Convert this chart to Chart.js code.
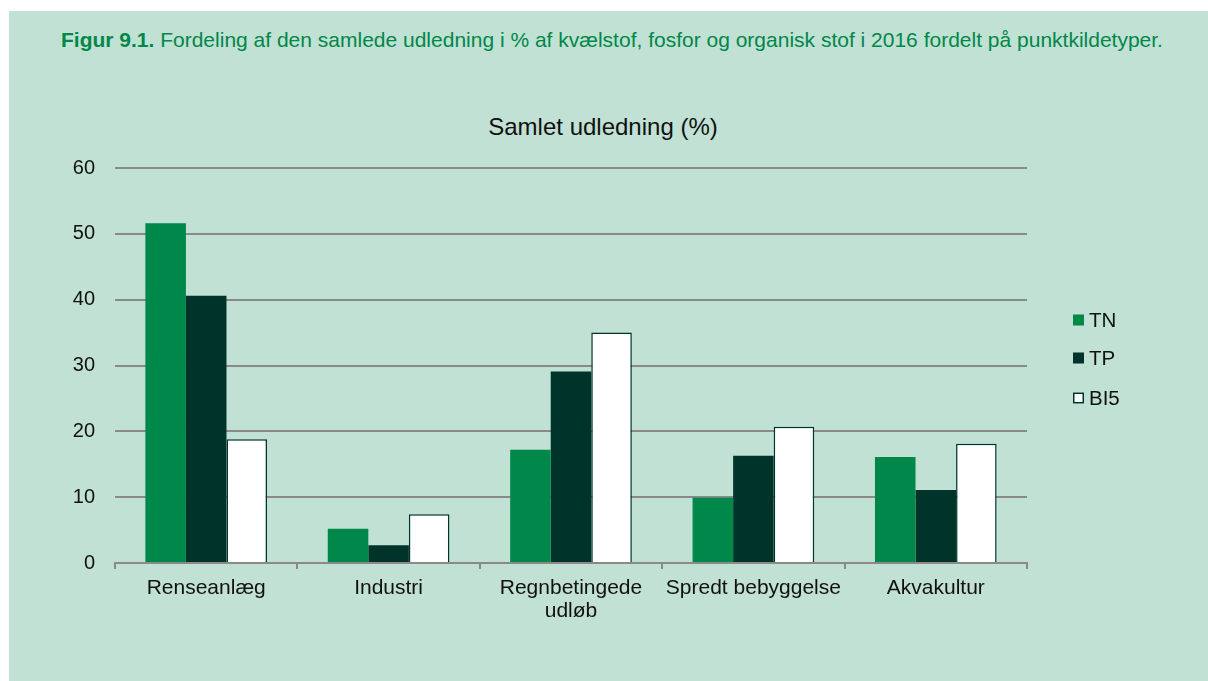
<!DOCTYPE html>
<html>
<head>
<meta charset="utf-8">
<script src="https://cdn.jsdelivr.net/npm/chart.js@4"></script>
<style>
  html, body { margin: 0; padding: 0; background: #ffffff; width: 1208px; height: 681px; overflow: hidden; }
  #panel { position: absolute; left: 9px; top: 11px; width: 1199px; height: 670px; background: #C0E1D3; }
  #figtitle { position: absolute; left: 61px; top: 28px; font-family: "Liberation Sans", Arial, sans-serif; font-size: 21px; line-height: 24px; color: #00874A; white-space: nowrap; }
  #figtitle b { font-weight: bold; }
  #charttitle { position: absolute; left: 0; width: 1206px; top: 113px; text-align: center; font-family: "Liberation Sans", Arial, sans-serif; font-size: 24px; line-height: 28px; color: #111; }
  #wrap { position: absolute; left: 0; top: 0; width: 1208px; height: 681px; }
</style>
</head>
<body>
<div id="panel"></div>
<div id="figtitle"><b>Figur 9.1.</b> Fordeling af den samlede udledning i % af kvælstof, fosfor og organisk stof i 2016 fordelt på punktkildetyper.</div>
<div id="charttitle">Samlet udledning (%)</div>
<div id="wrap"><canvas id="c" width="1208" height="681"></canvas></div>
<script>
const categories = ['Renseanlæg', 'Industri', ['Regnbetingede', 'udløb'], 'Spredt bebyggelse', 'Akvakultur'];
const seriesNames = ['TN', 'TP', 'BI5'];
const tnValues  = [51.6, 5.2, 17.2, 9.9, 16.1];
const tpValues  = [40.6, 2.7, 29.1, 16.3, 11.1];
const bi5Values = [18.8, 7.4, 35.0, 20.7, 18.1];
const yTicks = [0, 10, 20, 30, 40, 50, 60];

const FONT = '"Liberation Sans", Arial, sans-serif';
const GRID = '#8a8a8a';

const legendPlugin = {
  id: 'customLegend',
  afterDraw(chart) {
    const ctx = chart.ctx;
    const ds = chart.data.datasets;
    const x0 = 1073, xt = 1089, ys = [320, 358, 398], box = 11;
    ctx.save();
    ctx.font = '20.5px ' + FONT;
    ctx.textBaseline = 'middle';
    ctx.textAlign = 'left';
    ds.forEach((d, i) => {
      const y = ys[i];
      ctx.fillStyle = d.backgroundColor;
      ctx.fillRect(x0, y - box / 2, box, box);
      if (d.borderWidth) {
        ctx.strokeStyle = d.borderColor;
        ctx.lineWidth = 1.5;
        ctx.strokeRect(x0 + 0.75, y - box / 2 + 0.75, box - 1.5, box - 1.5);
      }
      ctx.fillStyle = '#111';
      ctx.fillText(d.label, xt, y + 1);
    });
    ctx.restore();
  }
};

new Chart(document.getElementById('c'), {
  type: 'bar',
  data: {
    labels: categories,
    datasets: [
      { label: seriesNames[0], data: tnValues, backgroundColor: '#00874A', borderWidth: 0 },
      { label: seriesNames[1], data: tpValues, backgroundColor: '#00332A', borderWidth: 0 },
      { label: seriesNames[2], data: bi5Values, backgroundColor: '#FFFFFF', borderColor: '#00332A', borderWidth: 1.5 }
    ]
  },
  options: {
    responsive: false,
    animation: false,
    events: [],
    layout: { padding: { left: 0, right: 181, top: 168, bottom: 0 } },
    datasets: { bar: { categoryPercentage: 0.667, barPercentage: 1.0 } },
    plugins: { legend: { display: false }, title: { display: false }, tooltip: { enabled: false } },
    scales: {
      x: {
        grid: { display: true, drawOnChartArea: false, drawTicks: true, tickLength: 6, offset: true, color: GRID, lineWidth: 2 },
        border: { display: true, color: GRID, width: 2 },
        ticks: { color: '#111', font: { family: FONT, size: 21, lineHeight: 1.1 }, padding: 8, maxRotation: 0, autoSkip: false },
        afterFit: s => { s.height = 681 - 563; }
      },
      y: {
        min: 0, max: 60,
        afterBuildTicks: s => { s.ticks = yTicks.map(v => ({ value: v })); },
        grid: { color: GRID, lineWidth: 2, drawTicks: false },
        border: { display: false },
        ticks: { color: '#111', font: { family: FONT, size: 20 }, padding: 20 },
        afterFit: s => { s.width = 115; }
      }
    }
  },
  plugins: [legendPlugin]
});
</script>
</body>
</html>
